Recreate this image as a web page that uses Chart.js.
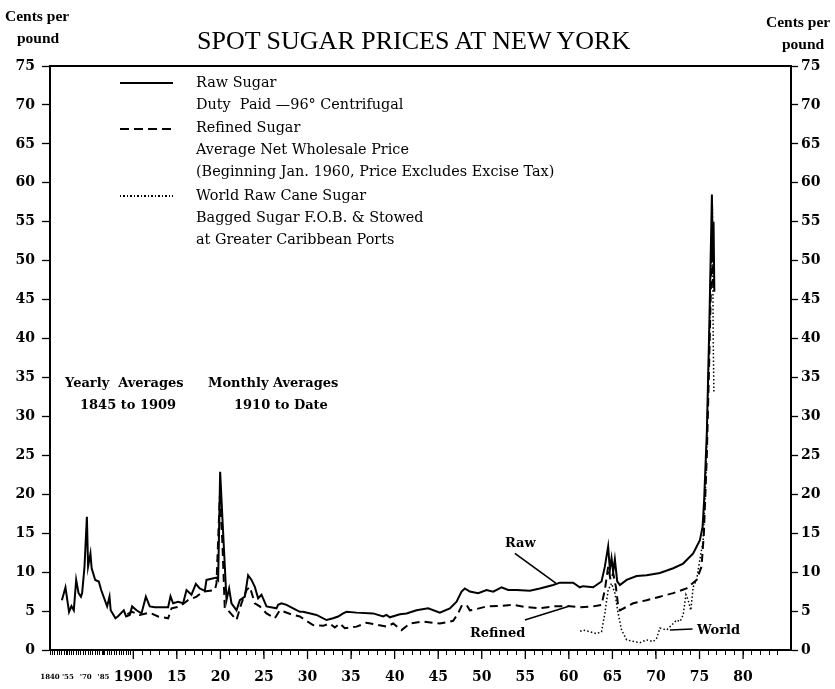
<!DOCTYPE html>
<html><head><meta charset="utf-8">
<script src="https://cdn.jsdelivr.net/npm/chart.js@4/dist/chart.umd.min.js"></script>
<style>
html,body{margin:0;padding:0;background:#fff;}
#wrap{position:relative;width:835px;height:689px;overflow:hidden;}
canvas{position:absolute;left:0;top:0;}
.t{position:absolute;white-space:nowrap;color:#000;line-height:1;}
.s{font-family:"Liberation Serif","Times New Roman",serif;}
.d{font-family:"DejaVu Serif",serif;}
.b{font-weight:bold;}
.lg{position:absolute;left:120px;width:53px;}
.lt{font-size:14.4px;left:196px;}
</style></head><body>
<div id="wrap">
<canvas id="c" width="835" height="689"></canvas>
<div class="t s b" style="left:5px;top:8px;font-size:15.5px;">Cents per</div>
<div class="t s b" style="left:17px;top:30px;font-size:15.5px;">pound</div>
<div class="t s" style="left:197px;top:28px;font-size:26px;">SPOT SUGAR PRICES AT NEW YORK</div>
<div class="t s b" style="left:766px;top:14px;font-size:15.5px;">Cents per</div>
<div class="t s b" style="left:782px;top:36px;font-size:15.5px;">pound</div>

<div class="lg" style="top:82px;height:2px;background:#000;"></div>
<div class="lg" style="top:128px;height:2px;background:repeating-linear-gradient(to right,#000 0 9px,transparent 9px 14px);"></div>
<div class="lg" style="top:195px;height:1.5px;background:repeating-linear-gradient(to right,#000 0 1.5px,transparent 1.5px 3.5px);"></div>
<div class="t d lt" style="top:75px;">Raw Sugar</div>
<div class="t d lt" style="top:97px;">Duty&nbsp; Paid &#8212;96° Centrifugal</div>
<div class="t d lt" style="top:120px;">Refined Sugar</div>
<div class="t d lt" style="top:142px;">Average Net Wholesale Price</div>
<div class="t d lt" style="top:164px;">(Beginning Jan. 1960, Price Excludes Excise Tax)</div>
<div class="t d lt" style="top:188px;">World Raw Cane Sugar</div>
<div class="t d lt" style="top:210px;">Bagged Sugar F.O.B. &amp; Stowed</div>
<div class="t d lt" style="top:232px;">at Greater Caribbean Ports</div>

<div class="t d b" style="left:65px;top:376px;font-size:13px;">Yearly&nbsp; Averages</div>
<div class="t d b" style="left:80px;top:398px;font-size:13px;">1845 to 1909</div>
<div class="t d b" style="left:208px;top:376px;font-size:13px;">Monthly Averages</div>
<div class="t d b" style="left:234px;top:398px;font-size:13px;">1910 to Date</div>
<div class="t d b" style="left:505px;top:536px;font-size:13px;">Raw</div>
<div class="t d b" style="left:470px;top:626px;font-size:13px;">Refined</div>
<div class="t d b" style="left:697px;top:623px;font-size:13px;">World</div>
</div>
<script>
// ---- Data (year, cents per pound) ----
const rawYears = [1850,1853,1856,1858,1860,1862,1864,1866,1867,1869,1871,1872,1874,1875,1878,1881,1883,1888,1890,1891,1895,1897,1902,1904,1907,1909,
 1910.37,1910.94,1911.44,1911.89,1912.47,1914.0,1914.27,1914.57,1915.14,1915.72,1916.11,1916.68,1917.18,1917.63,1918.21,1918.40,1919.55,1919.74,1919.97,1920.24,1920.70,
 1921.0,1921.27,1921.85,1922.23,1922.80,1923.18,1923.57,1923.95,1924.33,1924.72,1925.29,1926.44,1926.62,1927.01,1927.59,1928.35,1929.12,1929.49,1931.03,1932.18,1932.94,
 1933.51,1934.09,1934.48,1935.63,1937.53,1938.68,1939.07,1939.45,1940.60,1941.37,1942.51,1943.85,1945.19,1946.34,1947.11,1947.68,1948.06,1948.63,1949.59,1950.55,
 1951.31,1952.27,1953.03,1954.0,1955.52,1956.67,1958.2,1958.97,1960.49,1961.26,1961.64,1962.79,1963.75,1964.13,1964.51,1964.71,1964.90,1965.09,1965.28,1965.55,1965.86,
 1966.63,1967.78,1968.92,1970.45,1971.98,1973.12,1974.27,1975.04,1975.35,1975.53,1975.84,1976.13,1976.42,1976.53,1976.61,1976.70];
const rawCents = [6.4,8.05,4.9,5.65,5.1,9.0,7.3,6.85,7.3,10.7,17.1,10.7,12.4,10.5,9.0,8.8,7.7,5.6,6.85,5.1,4.07,4.3,5.1,4.3,4.5,5.6,
 5.1,4.7,6.85,5.6,5.5,5.5,6.9,6.0,6.2,6.0,7.7,7.1,8.5,7.9,7.6,9.0,9.3,9.0,22.9,16.7,6.4,
 7.9,6.0,5.1,6.4,6.85,9.6,9.0,8.1,6.65,7.1,5.6,5.35,5.8,6.0,5.8,5.35,4.9,4.9,4.5,3.85,4.07,
 4.3,4.7,4.9,4.8,4.7,4.3,4.5,4.2,4.6,4.7,5.1,5.35,4.8,5.35,6.2,7.5,7.9,7.5,7.3,7.7,
 7.5,8.05,7.7,7.7,7.6,7.9,8.35,8.65,8.65,8.05,8.2,8.05,8.8,10.7,13.3,10.3,11.8,10.05,11.65,8.8,8.35,
 9.0,9.5,9.6,9.9,10.5,11.1,12.4,14.1,15.8,19.3,28,42,58.5,50,55,46];

const refinedYears = [1905,1909,
 1910.75,1911.89,1912.85,1914.0,1914.39,1915.34,1916.29,1917.26,1918.01,1919.36,1919.55,1919.93,1920.22,1920.50,1920.88,1921.85,1922.42,1923.0,1923.38,1923.95,1924.52,
 1925.29,1926.25,1926.82,1928.35,1929.12,1930.64,1931.79,1932.56,1933.13,1933.71,1934.28,1935.63,1936.77,1937.53,1939.07,1939.83,1940.79,1941.74,1943.27,1945.19,
 1946.72,1947.29,1947.68,1948.25,1948.63,1949.21,1950.55,1952.08,1953.61,1955.14,1956.67,1958.2,1959.73,1961.26,1962.79,1963.75,1964.13,1964.51,1964.79,1965.09,
 1965.40,1965.66,1965.86,1967.39,1968.92,1970.45,1971.98,1973.51,1974.66,1975.23,1975.50,1975.84,1976.13,1976.42,1976.59];
const refinedCents = [4.6,4.9,
 4.5,4.8,4.3,4.07,5.35,5.6,6.4,6.85,7.5,7.7,8.55,19.7,14,5.35,5.1,3.85,6.0,7.7,8.1,6.0,5.6,
 4.7,4.07,5.1,4.5,4.3,3.2,3.1,3.4,2.9,3.4,2.8,3.0,3.5,3.35,3.0,3.4,2.55,3.4,3.65,3.4,
 3.75,4.7,5.65,5.8,5.1,5.2,5.6,5.65,5.8,5.5,5.35,5.6,5.65,5.5,5.6,5.8,7.7,10.7,9.0,9.85,
 8.1,5.6,5.1,6.0,6.4,6.85,7.3,7.9,9.0,10.7,15,25,38,52,46];

const worldYears = [1961.3,1961.64,1962.41,1963.18,1963.75,1964.13,1964.51,1964.90,1965.28,1965.66,1966.05,1966.63,1967.58,1968.16,1968.92,1969.69,1970.07,1970.45,
 1971.22,1971.98,1972.37,1972.75,1973.12,1973.44,1973.70,1974.0,1974.27,1974.66,1975.04,1975.42,1975.73,1976.07,1976.36,1976.48,1976.57,1976.65];
const worldCents = [2.4,2.55,2.35,2.1,2.35,4.7,7.7,8.55,7.3,4.7,2.57,1.3,1.07,0.94,1.3,1.07,1.5,2.8,
 2.57,3.4,3.85,3.65,4.5,7.1,6.4,5.1,8.1,9.0,11.6,14.1,22,38,52,57,40,33];

// tick labels; the "1900" label sits at the start of the monthly section, as printed
const tickYears = [1840,1855,1870,1885,1910,1915,1920,1925,1930,1935,1940,1945,1950,1955,1960,1965,1970,1975,1980];
const tickText  = ['1840',"'55","'70","'85",'1900','15','20','25','30','35','40','45','50','55','60','65','70','75','80'];

// ---- axis mapping: yearly section (1840-1909) is compressed ----
const COMP = 0.1366;
function pos(y){ return y >= 1910 ? y : 1910 - (1910 - y) * COMP; }
function toPts(ys, vs){ return ys.map((y,i)=>({x:pos(y), y:vs[i]})); }

const xTicks = [];
for (let y=1840; y<1910; y+=2) xTicks.push({year:y, label:''});
for (let y=1910; y<=1984; y++) xTicks.push({year:y, label:''});
tickYears.forEach((y,i)=>{
  let t = xTicks.find(k=>k.year===y);
  if (!t) { t = {year:y,label:''}; xTicks.push(t); }
  t.label = tickText[i];
});
xTicks.sort((a,b)=>a.year-b.year);

const serif = '"DejaVu Serif", serif';
const framePlugin = {
  id:'frame',
  afterDraw(chart){
    const {ctx, chartArea:a, scales} = chart;
    const xs = scales.x, ys = scales.y;
    ctx.save();
    ctx.strokeStyle = '#000';
    ctx.lineWidth = 2;
    ctx.beginPath(); ctx.moveTo(a.left-1, a.top); ctx.lineTo(a.right+1, a.top); ctx.stroke();
    // longer major ticks every 5 years
    ctx.lineWidth = 1.3;
    for (let y=1910; y<=1980; y+=5){
      const px = xs.getPixelForValue(pos(y));
      ctx.beginPath(); ctx.moveTo(px, a.bottom+1); ctx.lineTo(px, a.bottom+9); ctx.stroke();
    }
    // annotation pointers
    ctx.lineWidth = 1.6;
    const seg = (y1,v1,y2,v2)=>{
      ctx.beginPath();
      ctx.moveTo(xs.getPixelForValue(pos(y1)), ys.getPixelForValue(v1));
      ctx.lineTo(xs.getPixelForValue(pos(y2)), ys.getPixelForValue(v2));
      ctx.stroke();
    };
    seg(1953.8,12.4,1958.5,8.6);
    seg(1954.95,3.85,1960.1,5.65);
    seg(1971.6,2.57,1974.2,2.7);
    ctx.restore();
  }
};

new Chart(document.getElementById('c'), {
  type:'line',
  data:{ datasets:[
    {label:'Raw Sugar', data:toPts(rawYears,rawCents), borderColor:'#000', borderWidth:2, pointRadius:0, tension:0, fill:false},
    {label:'Refined Sugar', data:toPts(refinedYears,refinedCents), borderColor:'#000', borderWidth:2, borderDash:[8,5], pointRadius:0, tension:0, fill:false},
    {label:'World Raw Cane Sugar', data:toPts(worldYears,worldCents), borderColor:'#000', borderWidth:1.5, borderDash:[1.5,2.2], pointRadius:0, tension:0, fill:false}
  ]},
  options:{
    responsive:false, animation:false, devicePixelRatio:1,
    layout:{padding:{top:66,left:0,right:0,bottom:0}},
    plugins:{legend:{display:false}, tooltip:{enabled:false}, title:{display:false}},
    scales:{
      x:{type:'linear', min:pos(1840), max:1985.5,
        afterFit(s){ s.height = 39; },
        afterBuildTicks(s){ s.ticks = xTicks.map(t=>({value:pos(t.year)})); },
        ticks:{autoSkip:false, maxRotation:0, minRotation:0, color:'#000', padding:14,
          callback:(v,i)=>xTicks[i] ? xTicks[i].label : '',
          font:(c)=>{ const big = c.tick && c.tick.value >= pos(1899); return big ? {family:serif, weight:'bold', size:14, lineHeight:1.2} : {family:serif, weight:'bold', size:7, lineHeight:2.4}; }},
        grid:{drawOnChartArea:false, tickLength:5, tickWidth:1, color:'#000'},
        border:{width:2, color:'#000'}
      },
      y:{position:'left', min:0, max:75,
        afterFit(s){ s.width = 50; },
        ticks:{stepSize:2.5, color:'#000', padding:7, font:{family:serif, weight:'bold', size:14},
          callback:(v)=> (v % 5 === 0 ? String(v) : '')},
        grid:{drawOnChartArea:false, tickLength:8, tickWidth:1.3, color:'#000'},
        border:{width:2, color:'#000'}
      },
      y2:{position:'right', min:0, max:75,
        afterFit(s){ s.width = 44; },
        ticks:{stepSize:2.5, color:'#000', padding:3, font:{family:serif, weight:'bold', size:14},
          callback:(v)=> (v % 5 === 0 ? String(v) : '')},
        grid:{drawOnChartArea:false, tickLength:7, tickWidth:1.3, color:'#000'},
        border:{width:2, color:'#000'}
      }
    }
  },
  plugins:[framePlugin]
});
</script>
</body></html>
